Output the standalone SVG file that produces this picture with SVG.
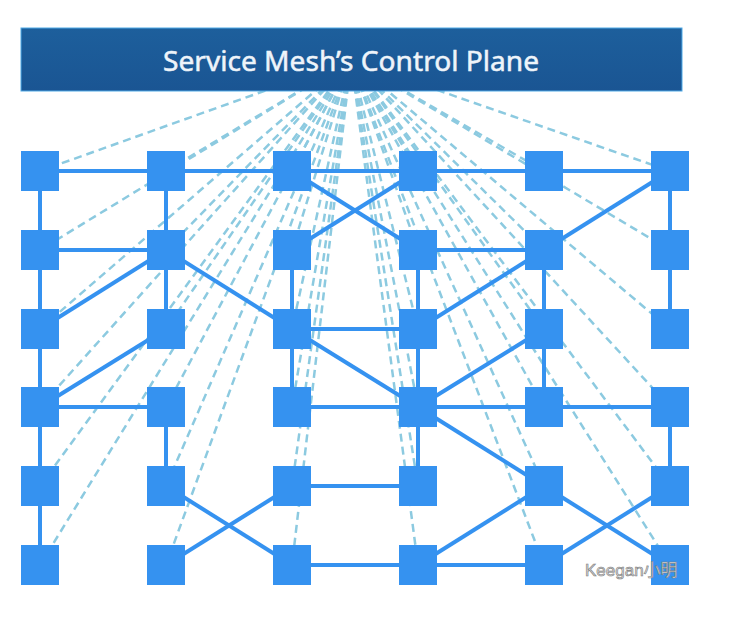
<svg xmlns="http://www.w3.org/2000/svg" width="755" height="617" viewBox="0 0 755 617">
<defs>
<linearGradient id="hdr" x1="0" y1="0" x2="0" y2="1">
<stop offset="0" stop-color="#1d5f9c"/>
<stop offset="1" stop-color="#1a5593"/>
</linearGradient>
<style>
.dash{stroke:#8ccae0;stroke-width:2.5;stroke-dasharray:8 5;fill:none}
.edge{stroke:#3592f0;stroke-width:4;fill:none;stroke-linecap:butt}
.node{fill:#3592f0}
.title{font-family:"Noto Sans","DejaVu Sans",sans-serif;font-size:27px;fill:#eef4fa;stroke:#eef4fa;stroke-width:0.5}
.wm{font-family:"Liberation Sans","Noto Sans CJK SC",sans-serif;font-size:17px;fill:#dcdcdc;stroke:#7a7a7a;stroke-width:0.6}
</style>
</defs>
<rect width="755" height="617" fill="#ffffff"/>
<g id="control-links">
<line class="dash" x1="351" y1="60" x2="40" y2="171"/>
<line class="dash" x1="351" y1="60" x2="166" y2="171"/>
<line class="dash" x1="351" y1="60" x2="292" y2="171"/>
<line class="dash" x1="351" y1="60" x2="418" y2="171"/>
<line class="dash" x1="351" y1="60" x2="544" y2="171"/>
<line class="dash" x1="351" y1="60" x2="670" y2="171"/>
<line class="dash" x1="351" y1="60" x2="40" y2="250"/>
<line class="dash" x1="351" y1="60" x2="166" y2="250"/>
<line class="dash" x1="351" y1="60" x2="292" y2="250"/>
<line class="dash" x1="351" y1="60" x2="418" y2="250"/>
<line class="dash" x1="351" y1="60" x2="544" y2="250"/>
<line class="dash" x1="351" y1="60" x2="670" y2="250"/>
<line class="dash" x1="351" y1="60" x2="40" y2="329"/>
<line class="dash" x1="351" y1="60" x2="166" y2="329"/>
<line class="dash" x1="351" y1="60" x2="292" y2="329"/>
<line class="dash" x1="351" y1="60" x2="418" y2="329"/>
<line class="dash" x1="351" y1="60" x2="544" y2="329"/>
<line class="dash" x1="351" y1="60" x2="670" y2="329"/>
<line class="dash" x1="351" y1="60" x2="40" y2="407"/>
<line class="dash" x1="351" y1="60" x2="166" y2="407"/>
<line class="dash" x1="351" y1="60" x2="292" y2="407"/>
<line class="dash" x1="351" y1="60" x2="418" y2="407"/>
<line class="dash" x1="351" y1="60" x2="544" y2="407"/>
<line class="dash" x1="351" y1="60" x2="670" y2="407"/>
<line class="dash" x1="351" y1="60" x2="40" y2="486"/>
<line class="dash" x1="351" y1="60" x2="166" y2="486"/>
<line class="dash" x1="351" y1="60" x2="292" y2="486"/>
<line class="dash" x1="351" y1="60" x2="418" y2="486"/>
<line class="dash" x1="351" y1="60" x2="544" y2="486"/>
<line class="dash" x1="351" y1="60" x2="670" y2="486"/>
<line class="dash" x1="351" y1="60" x2="40" y2="565"/>
<line class="dash" x1="351" y1="60" x2="166" y2="565"/>
<line class="dash" x1="351" y1="60" x2="292" y2="565"/>
<line class="dash" x1="351" y1="60" x2="418" y2="565"/>
<line class="dash" x1="351" y1="60" x2="544" y2="565"/>
<line class="dash" x1="351" y1="60" x2="670" y2="565"/>
</g>
<g id="control-plane">
<rect x="21" y="28" width="661" height="63" fill="url(#hdr)" stroke="#4fa9e6" stroke-width="1"/>
<text class="title" x="351" y="71" text-anchor="middle" textLength="376" lengthAdjust="spacingAndGlyphs">Service Mesh’s Control Plane</text>
</g>
<g id="connectors">
<line class="edge" x1="40" y1="171" x2="670" y2="171"/>
<line class="edge" x1="40" y1="171" x2="40" y2="565"/>
<line class="edge" x1="166" y1="171" x2="166" y2="329"/>
<line class="edge" x1="166" y1="407" x2="166" y2="486"/>
<line class="edge" x1="292" y1="250" x2="292" y2="407"/>
<line class="edge" x1="418" y1="250" x2="418" y2="486"/>
<line class="edge" x1="544" y1="250" x2="544" y2="407"/>
<line class="edge" x1="670" y1="171" x2="670" y2="329"/>
<line class="edge" x1="670" y1="407" x2="670" y2="486"/>
<line class="edge" x1="40" y1="250" x2="166" y2="250"/>
<line class="edge" x1="418" y1="250" x2="544" y2="250"/>
<line class="edge" x1="292" y1="329" x2="418" y2="329"/>
<line class="edge" x1="40" y1="407" x2="166" y2="407"/>
<line class="edge" x1="292" y1="407" x2="670" y2="407"/>
<line class="edge" x1="292" y1="486" x2="418" y2="486"/>
<line class="edge" x1="292" y1="565" x2="544" y2="565"/>
<line class="edge" x1="292" y1="171" x2="418" y2="250"/>
<line class="edge" x1="418" y1="171" x2="292" y2="250"/>
<line class="edge" x1="166" y1="250" x2="292" y2="329"/>
<line class="edge" x1="40" y1="329" x2="166" y2="250"/>
<line class="edge" x1="40" y1="407" x2="166" y2="329"/>
<line class="edge" x1="292" y1="329" x2="418" y2="407"/>
<line class="edge" x1="418" y1="407" x2="544" y2="329"/>
<line class="edge" x1="418" y1="329" x2="544" y2="250"/>
<line class="edge" x1="544" y1="250" x2="670" y2="171"/>
<line class="edge" x1="166" y1="486" x2="292" y2="565"/>
<line class="edge" x1="166" y1="565" x2="292" y2="486"/>
<line class="edge" x1="418" y1="407" x2="544" y2="486"/>
<line class="edge" x1="418" y1="565" x2="544" y2="486"/>
<line class="edge" x1="544" y1="486" x2="670" y2="565"/>
<line class="edge" x1="544" y1="565" x2="670" y2="486"/>
</g>
<g id="n11"><rect class="node" x="21" y="151" width="38" height="40"/></g>
<g id="n12"><rect class="node" x="147" y="151" width="38" height="40"/></g>
<g id="n13"><rect class="node" x="273" y="151" width="38" height="40"/></g>
<g id="n14"><rect class="node" x="399" y="151" width="38" height="40"/></g>
<g id="n15"><rect class="node" x="525" y="151" width="38" height="40"/></g>
<g id="n16"><rect class="node" x="651" y="151" width="38" height="40"/></g>
<g id="n21"><rect class="node" x="21" y="230" width="38" height="40"/></g>
<g id="n22"><rect class="node" x="147" y="230" width="38" height="40"/></g>
<g id="n23"><rect class="node" x="273" y="230" width="38" height="40"/></g>
<g id="n24"><rect class="node" x="399" y="230" width="38" height="40"/></g>
<g id="n25"><rect class="node" x="525" y="230" width="38" height="40"/></g>
<g id="n26"><rect class="node" x="651" y="230" width="38" height="40"/></g>
<g id="n31"><rect class="node" x="21" y="309" width="38" height="40"/></g>
<g id="n32"><rect class="node" x="147" y="309" width="38" height="40"/></g>
<g id="n33"><rect class="node" x="273" y="309" width="38" height="40"/></g>
<g id="n34"><rect class="node" x="399" y="309" width="38" height="40"/></g>
<g id="n35"><rect class="node" x="525" y="309" width="38" height="40"/></g>
<g id="n36"><rect class="node" x="651" y="309" width="38" height="40"/></g>
<g id="n41"><rect class="node" x="21" y="387" width="38" height="40"/></g>
<g id="n42"><rect class="node" x="147" y="387" width="38" height="40"/></g>
<g id="n43"><rect class="node" x="273" y="387" width="38" height="40"/></g>
<g id="n44"><rect class="node" x="399" y="387" width="38" height="40"/></g>
<g id="n45"><rect class="node" x="525" y="387" width="38" height="40"/></g>
<g id="n46"><rect class="node" x="651" y="387" width="38" height="40"/></g>
<g id="n51"><rect class="node" x="21" y="466" width="38" height="40"/></g>
<g id="n52"><rect class="node" x="147" y="466" width="38" height="40"/></g>
<g id="n53"><rect class="node" x="273" y="466" width="38" height="40"/></g>
<g id="n54"><rect class="node" x="399" y="466" width="38" height="40"/></g>
<g id="n55"><rect class="node" x="525" y="466" width="38" height="40"/></g>
<g id="n56"><rect class="node" x="651" y="466" width="38" height="40"/></g>
<g id="n61"><rect class="node" x="21" y="545" width="38" height="40"/></g>
<g id="n62"><rect class="node" x="147" y="545" width="38" height="40"/></g>
<g id="n63"><rect class="node" x="273" y="545" width="38" height="40"/></g>
<g id="n64"><rect class="node" x="399" y="545" width="38" height="40"/></g>
<g id="n65"><rect class="node" x="525" y="545" width="38" height="40"/></g>
<g id="n66"><rect class="node" x="651" y="545" width="38" height="40"/></g>
<g id="watermark">
<text class="wm" x="585" y="576">Keegan小明</text>
</g>
</svg>
